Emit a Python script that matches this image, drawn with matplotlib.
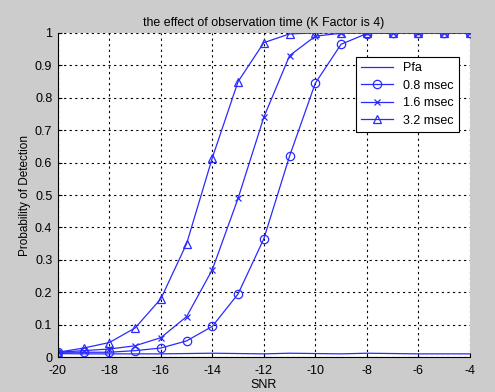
import numpy as np
import matplotlib
matplotlib.use('Agg')
import matplotlib.pyplot as plt

plt.rcParams['font.family'] = ['Liberation Sans', 'DejaVu Sans']
plt.rcParams['axes.unicode_minus'] = False

snr = np.arange(-20, -3, 1)
pfa = [0.011, 0.010, 0.010, 0.010, 0.010, 0.011, 0.012, 0.011, 0.010,
       0.012, 0.011, 0.010, 0.012, 0.011, 0.010, 0.010, 0.010]
pd_08 = [0.015, 0.015, 0.015, 0.020, 0.028, 0.050, 0.095, 0.195, 0.365,
         0.620, 0.845, 0.965, 0.998, 1.0, 1.0, 1.0, 1.0]
pd_16 = [0.015, 0.020, 0.025, 0.035, 0.060, 0.125, 0.270, 0.490, 0.740,
         0.930, 0.990, 0.999, 1.0, 1.0, 1.0, 1.0, 1.0]
pd_32 = [0.015, 0.028, 0.045, 0.090, 0.180, 0.350, 0.615, 0.850, 0.970,
         0.997, 1.0, 1.0, 1.0, 1.0, 1.0, 1.0, 1.0]
labels = ['Pfa', '0.8 msec', '1.6 msec', '3.2 msec']

blue = '#2a2aff'
bg = '#cccccc'

fig = plt.figure(figsize=(4.95, 3.92), dpi=100, facecolor=bg)
ax = fig.add_axes([0.117, 0.089, 0.832, 0.827])

ax.plot(snr, pfa, '-', color=blue, lw=0.9, label=labels[0])
ax.plot(snr, pd_08, '-o', color=blue, lw=0.9, ms=6, mfc='none', mew=0.9, label=labels[1])
ax.plot(snr, pd_16, '-x', color=blue, lw=0.9, ms=4, mew=0.9, label=labels[2])
ax.plot(snr, pd_32, '-^', color=blue, lw=0.9, ms=6, mfc='none', mew=0.9, label=labels[3])

ax.set_xlim(-20, -4)
ax.set_ylim(0, 1)
ax.set_xticks(np.arange(-20, -3, 2))
ax.set_yticks(np.arange(0, 1.01, 0.1))
ax.set_yticklabels(['0', '0.1', '0.2', '0.3', '0.4', '0.5', '0.6', '0.7', '0.8', '0.9', '1'])
ax.grid(True, color='black', linestyle=(0, (2, 3)), lw=0.8)
ax.spines['top'].set_visible(False)
ax.spines['right'].set_visible(False)
ax.tick_params(direction='in', length=3, labelsize=9)
ax.tick_params(axis='x', pad=6)
ax.tick_params(axis='y', pad=4)

ax.set_title('the effect of observation time (K Factor is 4)', fontsize=8.9, pad=5)
ax.set_xlabel('SNR', fontsize=9, labelpad=1)
ax.set_ylabel('Probability of Detection', fontsize=8.5, labelpad=3)

leg = ax.legend(loc='upper right', bbox_to_anchor=(0.973, 0.926), borderaxespad=0,
                fontsize=9, fancybox=False, framealpha=1, edgecolor='black',
                handlelength=2.6, borderpad=0.4, labelspacing=0.45)
leg.get_frame().set_linewidth(0.8)

fig.savefig('out.png', dpi=100, facecolor=bg)
